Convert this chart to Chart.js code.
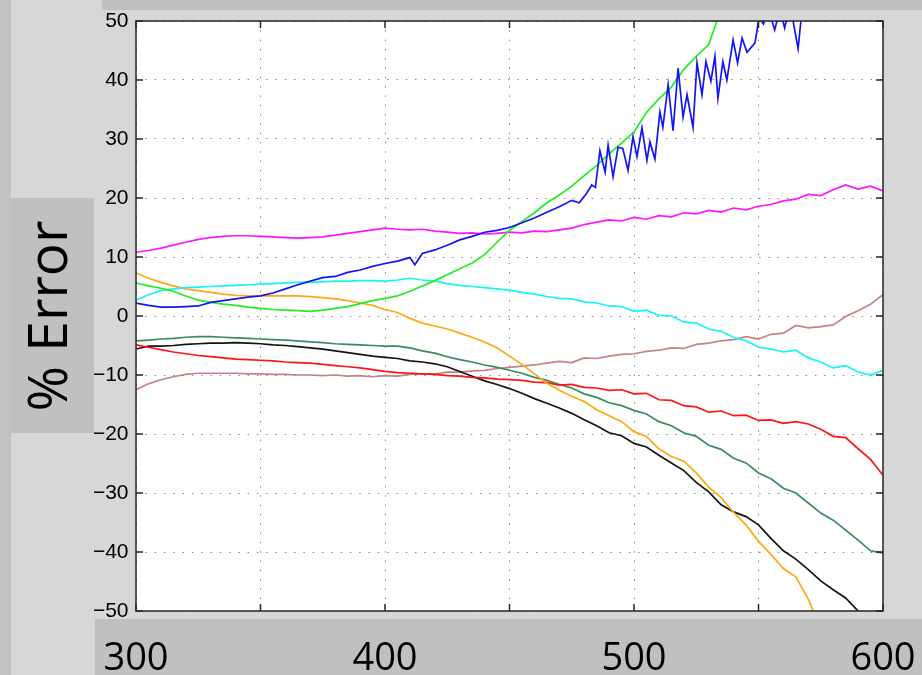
<!DOCTYPE html>
<html>
<head>
<meta charset="utf-8">
<script src="https://cdn.jsdelivr.net/npm/chart.js@4/dist/chart.umd.min.js"></script>
<style>
  html, body { margin: 0; padding: 0; background: #d7d7d7; }
  canvas { display: block; }
</style>
</head>
<body>
<canvas id="errorCanvas" width="922" height="675"></canvas>
<script>
// sample positions shared by most curves
const xs = [300, 305, 310, 315, 320, 325, 330, 335, 340, 345, 350, 355, 360, 365, 370, 375, 380, 385, 390, 395,
    400, 405, 410, 415, 420, 425, 430, 435, 440, 445, 450, 455, 460, 465, 470, 475, 480, 485, 490, 495,
    500, 505, 510, 515, 520, 525, 530, 535, 540, 545, 550, 555, 560, 565, 570, 575, 580, 585, 590, 595, 600];

const magenta = [10.8, 11.1, 11.5, 12.0, 12.5, 13.0, 13.3, 13.5, 13.6, 13.6, 13.5, 13.4, 13.3, 13.2, 13.3, 13.4, 13.7, 14.0, 14.3, 14.6,
    14.9, 14.7, 14.6, 14.7, 14.4, 14.2, 14.0, 14.1, 13.9, 14.0, 14.2, 14.1, 14.4, 14.3, 14.6, 14.9, 15.5, 15.9, 16.3, 16.1,
    16.7, 16.4, 17.0, 16.8, 17.5, 17.3, 17.9, 17.6, 18.3, 18.0, 18.6, 18.9, 19.5, 19.8, 20.6, 20.4, 21.4, 22.2, 21.5, 22.0, 21.2];

const green = [5.6, 5.1, 4.7, 4.2, 3.4, 2.7, 2.3, 2.0, 1.8, 1.5, 1.3, 1.1, 1.0, 0.9, 0.8, 1.0, 1.3, 1.6, 2.1, 2.6,
    3.0, 3.4, 4.2, 5.1, 6.0, 7.0, 8.0, 9.0, 10.4, 12.5, 14.5, 16.0, 17.5, 19.2, 20.5, 22.0, 23.8, 25.5, 27.5, 29.3,
    31.2, 34.5, 36.8, 38.8, 41.8, 44.0, 46.0, 52.0, 60.0];

const cyan = [2.7, 3.6, 4.3, 4.6, 4.8, 4.9, 5.0, 5.1, 5.2, 5.3, 5.4, 5.5, 5.6, 5.7, 5.7, 5.8, 5.9, 5.9, 6.0, 6.0,
    5.9, 6.1, 6.4, 6.1, 5.9, 5.5, 5.2, 5.0, 4.8, 4.6, 4.4, 4.0, 3.7, 3.3, 3.0, 2.9, 2.4, 2.2, 1.7, 1.6,
    0.8, 1.0, 0.1, 0.0, -1.0, -1.2, -2.2, -2.6, -3.6, -4.2, -5.3, -5.6, -6.1, -5.8, -7.1, -7.8, -8.8, -8.4, -9.5, -10.0, -9.2];

const orange = [7.3, 6.4, 5.7, 5.1, 4.6, 4.3, 4.0, 3.7, 3.5, 3.4, 3.4, 3.4, 3.4, 3.4, 3.3, 3.1, 2.9, 2.6, 2.2, 1.8,
    1.1, 0.6, -0.4, -1.2, -1.7, -2.2, -2.9, -3.6, -4.4, -5.4, -6.8, -8.2, -9.8, -11.4, -12.6, -13.6, -14.5, -15.9, -16.9, -17.9,
    -19.6, -20.4, -22.5, -23.8, -24.6, -26.6, -29.0, -30.8, -33.3, -35.4, -38.2, -40.4, -42.8, -44.2, -48.0, -53.0];

const red = [-4.9, -5.3, -5.7, -6.1, -6.4, -6.7, -6.9, -7.1, -7.3, -7.4, -7.5, -7.6, -7.8, -7.9, -8.0, -8.2, -8.4, -8.6, -8.8, -9.1,
    -9.4, -9.6, -9.7, -9.8, -9.9, -10.1, -10.2, -10.4, -10.5, -10.7, -10.8, -10.9, -11.2, -11.3, -11.7, -11.6, -12.1, -12.2, -12.6, -12.5,
    -13.2, -13.1, -14.2, -14.3, -15.2, -15.4, -16.3, -16.1, -16.9, -16.8, -17.7, -17.6, -18.2, -17.9, -18.3, -19.2, -20.4, -20.6, -22.5, -24.3, -27.0];

const seaGreen = [-4.2, -4.1, -3.9, -3.8, -3.6, -3.5, -3.5, -3.6, -3.7, -3.8, -3.9, -4.0, -4.1, -4.2, -4.4, -4.5, -4.7, -4.8, -4.9, -5.0,
    -5.1, -5.1, -5.4, -5.9, -6.3, -6.9, -7.4, -7.8, -8.3, -8.7, -9.2, -9.7, -10.4, -10.9, -11.6, -12.2, -13.2, -13.8, -14.7, -15.2,
    -16.0, -16.6, -17.9, -18.6, -19.8, -20.4, -21.9, -22.6, -24.1, -24.9, -26.6, -27.6, -29.2, -30.0, -31.7, -33.4, -34.6, -36.3, -38.0, -39.8, -40.2];

const black = [-5.6, -5.1, -5.1, -5.0, -4.8, -4.7, -4.6, -4.6, -4.5, -4.6, -4.7, -4.9, -5.0, -5.2, -5.4, -5.6, -5.9, -6.2, -6.5, -6.8,
    -7.0, -7.2, -7.6, -7.8, -8.1, -8.6, -9.4, -10.2, -11.0, -11.6, -12.3, -13.1, -14.0, -14.8, -15.6, -16.5, -17.6, -18.6, -19.8, -20.3,
    -21.6, -22.2, -23.6, -24.9, -26.2, -28.2, -29.8, -32.0, -33.2, -34.0, -35.4, -37.7, -39.8, -41.2, -43.0, -44.9, -46.4, -47.8, -50.0, -53.0];

const rosy = [-12.5, -11.5, -10.8, -10.3, -9.9, -9.7, -9.7, -9.7, -9.7, -9.8, -9.8, -9.9, -9.9, -10.0, -10.0, -10.1, -10.0, -10.2, -10.1, -10.3,
    -10.1, -10.2, -9.9, -9.8, -9.8, -9.5, -9.5, -9.3, -9.2, -8.9, -8.7, -8.5, -8.3, -8.0, -7.7, -7.9, -7.1, -7.2, -6.8, -6.5,
    -6.4, -6.0, -5.8, -5.4, -5.5, -4.8, -4.6, -4.2, -4.0, -3.5, -3.9, -3.1, -2.9, -1.6, -2.0, -1.8, -1.5, -0.1, 0.9, 2.0, 3.6];

// the blue curve is jagged, so it keeps its own sample positions
const blueX = [300, 305, 310, 315, 320, 325, 330, 335, 340, 345, 350, 355, 360, 365, 370, 375, 380, 385, 390, 395,
    400, 405, 410, 412, 415, 420, 425, 430, 435, 440, 445, 450, 455, 460, 465, 470, 475, 478, 481, 483, 484.5,
    486.3, 488.4, 489.6, 491.6, 493.6, 495.5, 497.6, 499.6, 501.2, 503.2, 505.2, 506.4, 508.4, 510.4, 511.6, 513.7,
    515.7, 517.7, 519.7, 521.3, 523.7, 525.3, 527.3, 528.9, 530.9, 532.5, 533.7, 535.7, 537.3, 539.8, 541.6, 543.4,
    545.4, 548.6, 550.2, 552, 554, 556.5, 558.6, 560.5, 562.6, 565.9, 567.5, 569];
const blue = [2.2, 1.8, 1.5, 1.5, 1.6, 1.7, 2.3, 2.6, 2.9, 3.2, 3.4, 3.9, 4.6, 5.3, 5.9, 6.5, 6.7, 7.4, 7.8, 8.4,
    8.9, 9.3, 9.9, 8.7, 10.6, 11.2, 12.0, 12.9, 13.5, 14.2, 14.5, 15.0, 15.8, 16.6, 17.6, 18.5, 19.6, 19.2, 20.8, 22.2, 21.8,
    28.0, 24.4, 29.0, 23.6, 28.6, 28.4, 24.7, 30.4, 27.0, 31.9, 26.4, 29.5, 26.6, 34.6, 32.0, 39.2,
    31.4, 42.0, 33.7, 37.5, 32.0, 42.9, 37.5, 43.1, 39.8, 44.0, 36.9, 43.1, 40.0, 46.8, 42.9, 47.1,
    44.7, 46.3, 50.5, 49.5, 52.0, 48.5, 52.0, 48.8, 53.0, 45.3, 52.0, 58.0];

const xTicks = [300, 400, 500, 600];

function pts(xv, yv) {
    return yv.map((y, i) => ({ x: xv[i], y: y }));
}

function series(label, xv, yv, color) {
    return {
        label: label,
        data: pts(xv, yv),
        borderColor: color,
        borderWidth: 1.7,
        pointRadius: 0,
        tension: 0,
        fill: false
    };
}

// grey slide panels behind the plot
const panels = {
    id: 'panels',
    beforeDraw(chart) {
        const { ctx, chartArea: a } = chart;
        ctx.save();
        ctx.fillStyle = '#d7d7d7';
        ctx.fillRect(0, 0, chart.width, chart.height);
        ctx.fillStyle = '#c2c2c2';
        ctx.fillRect(0, 0, 11, chart.height);
        ctx.fillStyle = '#c0c0c0';
        ctx.fillRect(102, 0, chart.width - 102, 10);
        ctx.fillRect(11, 198, 83, 235);
        ctx.fillRect(95, 619, chart.width - 95, chart.height - 619);
        ctx.fillStyle = '#ffffff';
        ctx.fillRect(a.left, a.top, a.width, a.height);
        ctx.restore();
    }
};

// box around the axes with inward tick marks on all sides
const frame = {
    id: 'frame',
    afterDraw(chart) {
        const { ctx, chartArea: a, scales } = chart;
        const len = 7;
        ctx.save();
        ctx.strokeStyle = '#262626';
        ctx.lineWidth = 1.5;
        ctx.beginPath();
        scales.y.ticks.forEach(t => {
            const py = scales.y.getPixelForValue(t.value);
            ctx.moveTo(a.left, py); ctx.lineTo(a.left + len, py);
            ctx.moveTo(a.right, py); ctx.lineTo(a.right - len, py);
        });
        scales.x.ticks.forEach(t => {
            const px = scales.x.getPixelForValue(t.value);
            ctx.moveTo(px, a.bottom); ctx.lineTo(px, a.bottom - len);
            ctx.moveTo(px, a.top); ctx.lineTo(px, a.top + len);
        });
        ctx.stroke();
        ctx.strokeRect(a.left, a.top, a.width, a.height);
        ctx.restore();
    }
};

const ctx = document.getElementById('errorCanvas').getContext('2d');
new Chart(ctx, {
    type: 'line',
    data: {
        datasets: [
            series('blue', blueX, blue, '#1414f5'),
            series('green', xs, green, '#22ee22'),
            series('magenta', xs, magenta, '#ff14ff'),
            series('cyan', xs, cyan, '#14f5f5'),
            series('orange', xs, orange, '#ffa814'),
            series('red', xs, red, '#ff1414'),
            series('seagreen', xs, seaGreen, '#3a8c5c'),
            series('black', xs, black, '#141414'),
            series('rosybrown', xs, rosy, '#c48484')
        ]
    },
    options: {
        responsive: false,
        devicePixelRatio: 1,
        animation: false,
        events: [],
        layout: { padding: { top: 21, right: 39, bottom: 0, left: 0 } },
        plugins: {
            legend: { display: false },
            tooltip: { enabled: false }
        },
        scales: {
            x: {
                type: 'linear',
                min: 300,
                max: 600,
                // big labels sit in the band below; keep the plot edges fixed
                afterFit: s => { s.height = 64; s.paddingLeft = 0; s.paddingRight = 0; },
                border: { display: false, dash: [1.5, 7.8] },
                grid: { color: '#8a8a8a', lineWidth: 1, drawTicks: false },
                ticks: {
                    stepSize: 50,
                    autoSkip: false,
                    maxRotation: 0,
                    padding: 25,
                    color: '#000',
                    font: { family: 'Open Sans', size: 38 },
                    callback: v => xTicks.includes(v) ? String(v) : ''
                }
            },
            y: {
                min: -50,
                max: 50,
                afterFit: s => { s.width = 136; s.paddingTop = 0; s.paddingBottom = 0; },
                border: { display: false, dash: [1.5, 7.8] },
                grid: { color: '#8a8a8a', lineWidth: 1, drawTicks: false },
                ticks: {
                    stepSize: 10,
                    padding: 7.5,
                    color: '#000',
                    font: { family: 'Liberation Sans', size: 21 },
                    callback: v => String(v).replace('-', '\u2212')
                },
                title: {
                    display: true,
                    text: '% Error',
                    color: '#000',
                    font: { family: 'Open Sans', size: 55 },
                    padding: { top: 18 }
                }
            }
        }
    },
    plugins: [panels, frame]
});
</script>
</body>
</html>
